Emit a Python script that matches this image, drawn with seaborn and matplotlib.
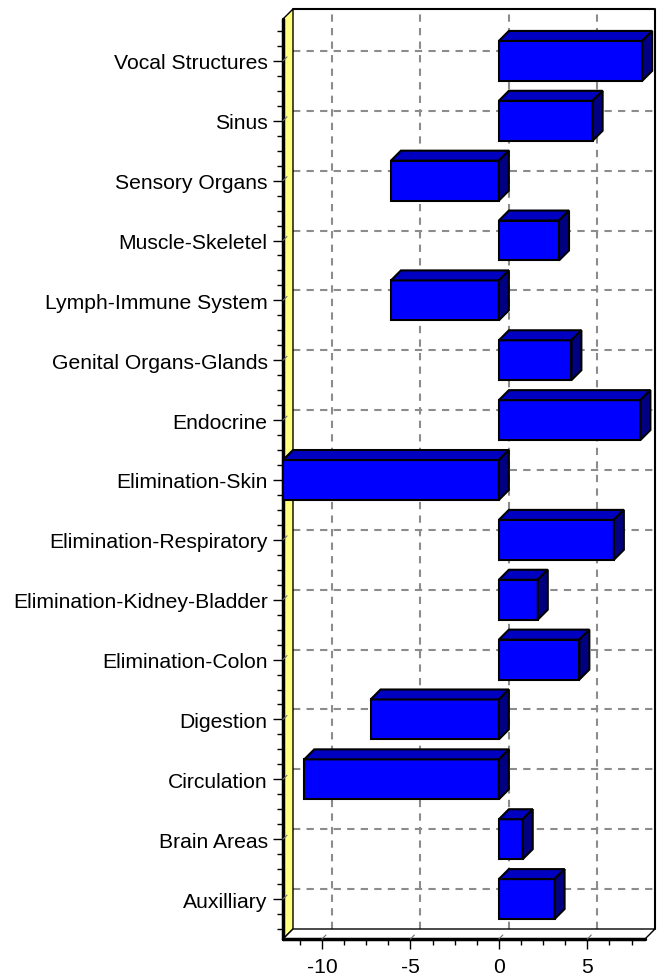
import matplotlib
matplotlib.use("Agg")
import matplotlib.pyplot as plt
import seaborn as sns
import pandas as pd
from matplotlib.patches import Polygon
from matplotlib.ticker import MultipleLocator
from matplotlib.transforms import ScaledTranslation

# Data (top to bottom, as in the chart)
categories = [
    "Vocal Structures", "Sinus", "Sensory Organs", "Muscle-Skeletel",
    "Lymph-Immune System", "Genital Organs-Glands", "Endocrine",
    "Elimination-Skin", "Elimination-Respiratory", "Elimination-Kidney-Bladder",
    "Elimination-Colon", "Digestion", "Circulation", "Brain Areas", "Auxilliary",
]
values = [8.1, 5.3, -6.1, 3.4, -6.1, 4.1, 8.0, -12.2, 6.5, 2.2, 4.55, -7.25, -11.0, 1.35, 3.15]
x_ticks = [-10, -5, 0, 5]


def main():
    sns.set_theme(style="white")
    plt.rcParams["font.family"] = ["Liberation Sans", "DejaVu Sans"]
    plt.rcParams["axes.unicode_minus"] = False

    fig = plt.figure(figsize=(6.58, 9.78), dpi=100)
    ax = fig.add_axes([283 / 658, 38 / 978, 362 / 658, 920 / 978])

    df = pd.DataFrame({"System": categories, "Value": values})
    sns.barplot(data=df, x="Value", y="System", orient="h", color="#0000FF",
                saturation=1, width=0.667, edgecolor="black", linewidth=1.5,
                ax=ax, zorder=3)

    xmin, xmax = -12.2, 8.26
    ytop, ybot = -0.7, len(categories) - 1 + 0.667
    ax.set_xlim(xmin, xmax)
    ax.set_ylim(ybot, ytop)

    # depth of the 3D effect: 10 px right and 10 px up
    dx = 10 * (xmax - xmin) / 362
    dy = 10 * (ybot - ytop) / 920
    back = ax.transData + ScaledTranslation(0.1, 0.1, fig.dpi_scale_trans)

    for s in ax.spines.values():
        s.set_visible(False)

    # back wall grid
    grid_kw = dict(color="#8c8c8c", lw=1.5, ls=(0, (3.5, 3)), zorder=1, clip_on=False)
    for t in x_ticks:
        ax.plot([t, t], [ybot, ytop], transform=back, **grid_kw)
    for i in range(len(categories)):
        ax.plot([xmin, xmax], [i, i], transform=back, **grid_kw)
    ax.plot([xmin, xmax, xmax], [ytop, ytop, ybot], transform=back,
            color="black", lw=1.5, zorder=2, clip_on=False)

    # yellow left wall and floor
    wall = Polygon([(xmin, ybot), (xmin, ytop), (xmin + dx, ytop - dy), (xmin + dx, ybot - dy)],
                   facecolor="#FFFF80", edgecolor="black", lw=1, zorder=2, clip_on=False)
    floor = Polygon([(xmin, ybot), (xmax, ybot), (xmax + dx, ybot - dy), (xmin + dx, ybot - dy)],
                    facecolor="white", edgecolor="black", lw=1, zorder=2, clip_on=False)
    ax.add_patch(wall)
    ax.add_patch(floor)
    ax.plot([xmin, xmin], [ybot, ytop], color="black", lw=2.5, zorder=2.5, clip_on=False)
    ax.plot([xmin, xmax], [ybot, ybot], color="black", lw=2.5, zorder=2.5, clip_on=False)

    # small depth ticks on floor and wall
    for t in x_ticks:
        ax.plot([t, t + dx * 0.4], [ybot, ybot - dy * 0.4], color="#707070", lw=0.8, zorder=2.5, clip_on=False)
    for i in range(len(categories)):
        ax.plot([xmin, xmin + dx * 0.4], [i, i - dy * 0.4], color="#707070", lw=0.8, zorder=2.5, clip_on=False)

    # 3D faces of the bars
    bars = list(ax.patches)
    for p in bars:
        if p in (wall, floor):
            continue
        p.set_clip_on(False)
        x0, w, y0, h = p.get_x(), p.get_width(), p.get_y(), p.get_height()
        xl, xr = min(x0, x0 + w), max(x0, x0 + w)
        yt, yb = min(y0, y0 + h), max(y0, y0 + h)
        top = Polygon([(xl, yt), (xr, yt), (xr + dx, yt - dy), (xl + dx, yt - dy)],
                      facecolor="#0000C0", edgecolor="black", lw=1.5, zorder=3, clip_on=False)
        side = Polygon([(xr, yt), (xr, yb), (xr + dx, yb - dy), (xr + dx, yt - dy)],
                       facecolor="#000080", edgecolor="black", lw=1.5, zorder=3, clip_on=False)
        ax.add_patch(top)
        ax.add_patch(side)

    # ticks
    ax.set_xticks(x_ticks)
    ax.set_xticklabels([str(t) for t in x_ticks])
    ax.xaxis.set_minor_locator(MultipleLocator(1.25))
    ax.yaxis.set_minor_locator(MultipleLocator(0.25))
    ax.tick_params(axis="both", which="both", bottom=True, left=True, direction="out",
                   color="black", width=1, labelcolor="black")
    ax.tick_params(axis="both", which="major", length=7, pad=4, labelsize=15.2)
    ax.tick_params(axis="x", which="major", pad=6)
    ax.tick_params(axis="both", which="minor", length=4.5)
    ax.set_xlabel("")
    ax.set_ylabel("")

    plt.savefig("out.png", dpi=100)
    plt.close()


if __name__ == "__main__":
    main()
